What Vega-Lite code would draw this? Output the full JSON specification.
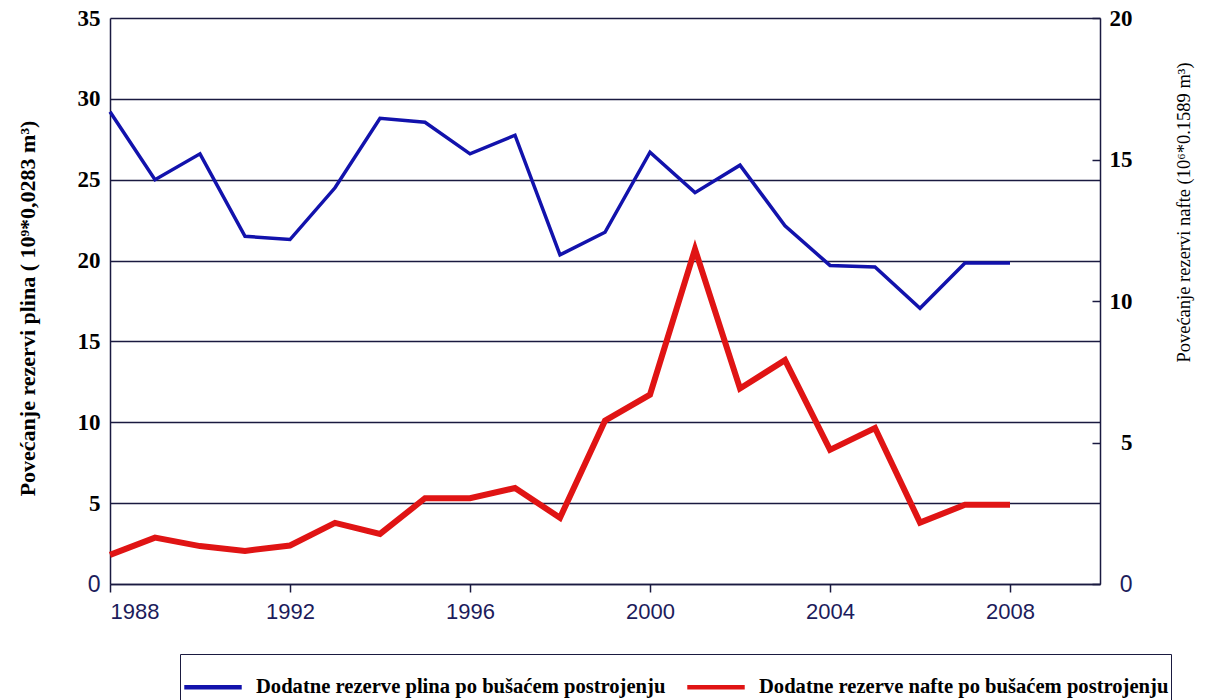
{
  "$schema": "https://vega.github.io/schema/vega-lite/v6.json",
  "width": 990,
  "height": 566,
  "autosize": {"type": "none"},
  "padding": {"left": 110, "top": 18, "right": 108, "bottom": 116},
  "background": "white",
  "config": {"view": {"stroke": null}},
  "data": {
    "values": [
      {"year": 1988, "gas": 29.2, "oil": 1.03},
      {"year": 1989, "gas": 25.0, "oil": 1.64},
      {"year": 1990, "gas": 26.6, "oil": 1.34},
      {"year": 1991, "gas": 21.5, "oil": 1.17},
      {"year": 1992, "gas": 21.3, "oil": 1.36},
      {"year": 1993, "gas": 24.5, "oil": 2.16},
      {"year": 1994, "gas": 28.8, "oil": 1.77},
      {"year": 1995, "gas": 28.55, "oil": 3.03},
      {"year": 1996, "gas": 26.6, "oil": 3.03},
      {"year": 1997, "gas": 27.75, "oil": 3.39},
      {"year": 1998, "gas": 20.35, "oil": 2.34},
      {"year": 1999, "gas": 21.75, "oil": 5.77},
      {"year": 2000, "gas": 26.7, "oil": 6.69},
      {"year": 2001, "gas": 24.2, "oil": 11.83},
      {"year": 2002, "gas": 25.9, "oil": 6.91},
      {"year": 2003, "gas": 22.15, "oil": 7.91},
      {"year": 2004, "gas": 19.7, "oil": 4.74},
      {"year": 2005, "gas": 19.6, "oil": 5.51},
      {"year": 2006, "gas": 17.05, "oil": 2.17},
      {"year": 2007, "gas": 19.85, "oil": 2.8},
      {"year": 2008, "gas": 19.85, "oil": 2.8}
    ]
  },
  "encoding": {
    "x": {
      "field": "year",
      "type": "quantitative",
      "scale": {"domain": [1988, 2010], "nice": false, "zero": false},
      "axis": {
        "title": null,
        "values": [1988, 1992, 1996, 2000, 2004, 2008],
        "format": "d",
        "grid": false,
        "tickSize": 8,
        "tickWidth": 1.5,
        "tickColor": "#1a1a40",
        "domainColor": "#1a1a40",
        "domainWidth": 1.5,
        "labelFont": "Liberation Sans",
        "labelFontSize": 22,
        "labelColor": "#1c1c5c",
        "labelPadding": 9
      }
    }
  },
  "layer": [
    {
      "mark": {"type": "line", "strokeWidth": 3.5},
      "encoding": {
        "y": {
          "field": "gas",
          "type": "quantitative",
          "scale": {"domain": [0, 35], "nice": false},
          "axis": {
            "orient": "left",
            "values": [0, 5, 10, 15, 20, 25, 30, 35],
            "grid": true,
            "gridColor": "#1a1a40",
            "gridWidth": 1.5,
            "gridOpacity": 1,
            "ticks": false,
            "domainColor": "#1a1a40",
            "domainWidth": 1.5,
            "labelFontSize": 23,
            "labelFont": {"condition": {"test": "datum.value == 0", "value": "Liberation Sans"}, "value": "Liberation Serif"},
            "labelFontWeight": {"condition": {"test": "datum.value == 0", "value": "normal"}, "value": "bold"},
            "labelColor": {"condition": {"test": "datum.value == 0", "value": "#1c1c5c"}, "value": "black"},
            "labelPadding": 10,
            "title": "Povećanje rezervi plina ( 10⁹*0,0283 m³)",
            "titleFont": "Liberation Serif",
            "titleFontSize": 22,
            "titleFontWeight": "bold",
            "titleColor": "black",
            "titleAngle": 270,
            "titleBaseline": "middle",
            "titleX": -83,
            "titleY": 290
          }
        },
        "color": {
          "datum": "Dodatne rezerve plina po bušaćem postrojenju",
          "type": "nominal",
          "scale": {
            "domain": ["Dodatne rezerve plina po bušaćem postrojenju", "Dodatne rezerve nafte po bušaćem postrojenju"],
            "range": ["#1212ac", "#e01414"]
          },
          "legend": {
            "title": null,
            "orient": "none",
            "direction": "horizontal",
            "legendX": 70,
            "legendY": 636,
            "symbolType": "stroke",
            "symbolSize": 3300,
            "symbolStrokeWidth": 4.5,
            "labelFont": "Liberation Serif",
            "labelFontWeight": "bold",
            "labelFontSize": 20.6,
            "labelColor": "black",
            "labelLimit": 600,
            "labelOffset": 12,
            "columnPadding": 12,
            "padding": 2,
            "strokeColor": "#1a1a40",
            "fillColor": "white"
          }
        }
      }
    },
    {
      "mark": {"type": "line", "strokeWidth": 6},
      "encoding": {
        "y": {
          "field": "oil",
          "type": "quantitative",
          "scale": {"domain": [0, 20], "nice": false},
          "axis": {
            "orient": "right",
            "values": [0, 5, 10, 15, 20],
            "grid": false,
            "tickSize": -8,
            "tickWidth": 1.5,
            "tickColor": "#1a1a40",
            "domainColor": "#1a1a40",
            "domainWidth": 1.5,
            "labelFontSize": 23,
            "labelAlign": "right",
            "labelFont": {"condition": {"test": "datum.value == 0", "value": "Liberation Sans"}, "value": "Liberation Serif"},
            "labelFontWeight": {"condition": {"test": "datum.value == 0", "value": "normal"}, "value": "bold"},
            "labelColor": {"condition": {"test": "datum.value == 0", "value": "#1c1c5c"}, "value": "black"},
            "labelPadding": 40,
            "title": "Povećanje rezervi nafte (10⁶*0.1589 m³)",
            "titleFont": "Liberation Serif",
            "titleFontSize": 18.5,
            "titleFontWeight": "normal",
            "titleColor": "black",
            "titleAngle": 270,
            "titleBaseline": "middle",
            "titleX": 83,
            "titleY": 194
          }
        },
        "color": {"datum": "Dodatne rezerve nafte po bušaćem postrojenju", "type": "nominal"}
      }
    }
  ],
  "resolve": {"scale": {"y": "independent"}}
}
